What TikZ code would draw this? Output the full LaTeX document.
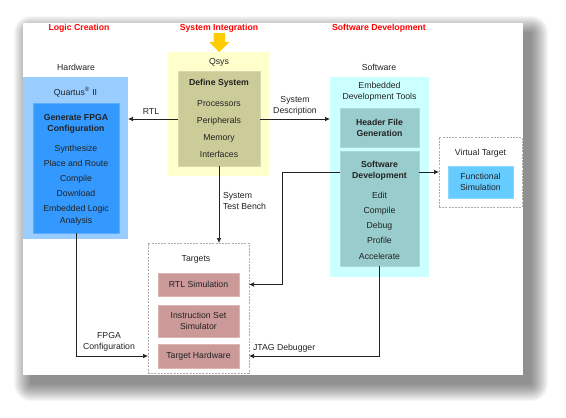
\documentclass[tikz,border=0pt]{standalone}
\usepackage{fontspec}
\setmainfont{Liberation Sans}
\usetikzlibrary{arrows.meta,calc}
\definecolor{qouter}{HTML}{99CCFF}
\definecolor{qinner}{HTML}{3399FF}
\definecolor{qinnerb}{HTML}{5CADFF}
\definecolor{sysouter}{HTML}{FFFFCC}
\definecolor{sysinner}{HTML}{CCCC99}
\definecolor{sysinnerb}{HTML}{D8D8AE}
\definecolor{swouter}{HTML}{CCFFFF}
\definecolor{swinner}{HTML}{99CCCC}
\definecolor{swinnerb}{HTML}{ADD8D8}
\definecolor{funcsim}{HTML}{66CCFF}
\definecolor{funcsimb}{HTML}{8AD8FF}
\definecolor{tgt}{HTML}{CC9999}
\definecolor{tgtb}{HTML}{DDB5B5}
\definecolor{arrowyel}{HTML}{FFCC00}
\definecolor{titlered}{HTML}{FF0000}
\definecolor{ink}{HTML}{222222}
\newcommand{\fsnorm}{\fontsize{8.7}{11}\selectfont}
\newcommand{\fsbold}{\fontsize{8.7}{11}\selectfont\bfseries}
\begin{document}
\begin{tikzpicture}[x=1pt,y=-1pt,
  box/.style={rectangle, inner sep=0, outer sep=0, anchor=north west},
  txt/.style={inner sep=0, outer sep=0, align=center, font=\fsnorm, text=ink},
  btxt/.style={inner sep=0, outer sep=0, align=center, font=\fsbold, text=ink},
  title/.style={inner sep=0, font=\fsbold, text=titlered},
  dbox/.style={box, draw=gray!65, line width=0.8pt, dash pattern=on 2pt off 1.2pt},
  conn/.style={draw=ink, line width=0.7pt, -{Latex[length=5pt,width=4.5pt]}},
  inner/.style={box, line width=0.8pt}
]
\useasboundingbox (0,0) rectangle (566,418);
% shadow
\foreach \i in {0,...,17}
  \fill[black, opacity=0.032, rounded corners=\i pt] ({31-\i},{33-\i}) rectangle ({531+\i},{384+\i});
% panel
\node[box, fill=white, minimum width=500, minimum height=352] (panel) at (23,23) {};

% titles
\node[title] (t1) at (79,28) {Logic Creation};
\node[title] (t2) at (219,28) {System Integration};
\node[title] (t3) at (379,28) {Software Development};
\fill[arrowyel] (213.5,33) -- (225,33) -- (225,42) -- (229.5,42) -- (219.25,52) -- (209,42) -- (213.5,42) -- cycle;

% hardware
\node[txt] (hwlbl) at (76,67) {Hardware};
\node[box, fill=qouter, minimum width=105, minimum height=162] (quartus) at (23,77) {};
\node[txt] (qlbl) at (75.5,92) {Quartus\textsuperscript{\textregistered} II};
\node[inner, fill=qinner, draw=qinnerb, minimum width=86, minimum height=130] (qinner) at (33,103) {};
\node[btxt] (gen) at (76,123.5) {Generate FPGA\\Configuration};
\node[txt, font=\fontsize{8.7}{15}\selectfont] (hwlist) at (76,185) {Synthesize\\Place and Route\\Compile\\Download\\Embedded Logic\\[-3pt]Analysis};

% qsys
\node[box, fill=sysouter, minimum width=101, minimum height=124] (qsys) at (168,52) {};
\node[txt] (qsyslbl) at (219,62) {Qsys};
\node[inner, fill=sysinner, draw=sysinnerb, minimum width=82, minimum height=95] (define) at (178,71) {};
\node[btxt] (deftitle) at (219,83) {Define System};
\node[txt, font=\fontsize{8.7}{17.3}\selectfont] (deflist) at (219,129) {Processors\\Peripherals\\Memory\\Interfaces};

% software
\node[txt] (swlbl) at (379,67) {Software};
\node[box, fill=swouter, minimum width=99, minimum height=200] (software) at (330,77) {};
\node[txt] (edt) at (379.5,91.5) {Embedded\\Development Tools};
\node[inner, fill=swinner, draw=swinnerb, minimum width=79, minimum height=39, align=center, font=\fsbold, text=ink] (header) at (340,108) {Header File\\Generation};
\node[inner, fill=swinner, draw=swinnerb, minimum width=79, minimum height=115] (swdev) at (340,151) {};
\node[btxt] (swdevt) at (379.5,170.5) {Software\\Development};
\node[txt, font=\fontsize{8.7}{15.25}\selectfont] (swlist) at (379.5,225.5) {Edit\\Compile\\Debug\\Profile\\Accelerate};

% virtual target
\node[dbox, minimum width=83, minimum height=70] (virtual) at (439,137) {};
\node[txt] (vtlbl) at (480.5,153) {Virtual Target};
\node[inner, fill=funcsim, draw=funcsimb, minimum width=65, minimum height=32, align=center, font=\fsnorm, text=ink] (func) at (448,166) {Functional\\Simulation};

% targets
\node[dbox, minimum width=101, minimum height=130] (targets) at (148,243) {};
\node[txt] (tgtlbl) at (196,259) {Targets};
\node[inner, fill=tgt, draw=tgtb, minimum width=81, minimum height=23, font=\fsnorm, text=ink] (rtlsim) at (158,273) {RTL Simulation};
\node[inner, fill=tgt, draw=tgtb, minimum width=81, minimum height=32, align=center, font=\fsnorm, text=ink] (iss) at (158,305) {Instruction Set\\Simulator};
\node[inner, fill=tgt, draw=tgtb, minimum width=81, minimum height=24, font=\fsnorm, text=ink] (th) at (158,344) {Target Hardware};

% connectors
\draw[conn] (define.west |- 0,119) coordinate (rtlstart) -- (rtlstart -| quartus.east);
\node[txt] (rtllbl) at (151,112) {RTL};
\draw[conn] (define.east |- 0,119) coordinate (sdstart) -- (sdstart -| software.west);
\node[txt] (sdlbl) at (295,106) {System\\Description};
\draw[conn] (define.south) -- (define.south |- targets.north);
\node[txt, align=left, anchor=west] (stblbl) at (223,201) {System\\Test Bench};
\coordinate (swout) at ($(swdev.north east)+(0,21)$);
\draw[conn] (swout) -- (swout -| virtual.west);
\coordinate (swleft) at ($(swdev.north west)+(0,21)$);
\draw[conn] (swleft) -- ++(-58,0) |- (rtlsim.east -| targets.east);
\draw[conn] (qinner.south) |- (th.west -| targets.west);
\node[txt] (fpgalbl) at (109,342) {FPGA\\Configuration};
\draw[conn] (swdev.south) |- (th.east -| targets.east);
\node[txt, anchor=west] (jtaglbl) at (253,348) {JTAG Debugger};
\end{tikzpicture}
\end{document}
